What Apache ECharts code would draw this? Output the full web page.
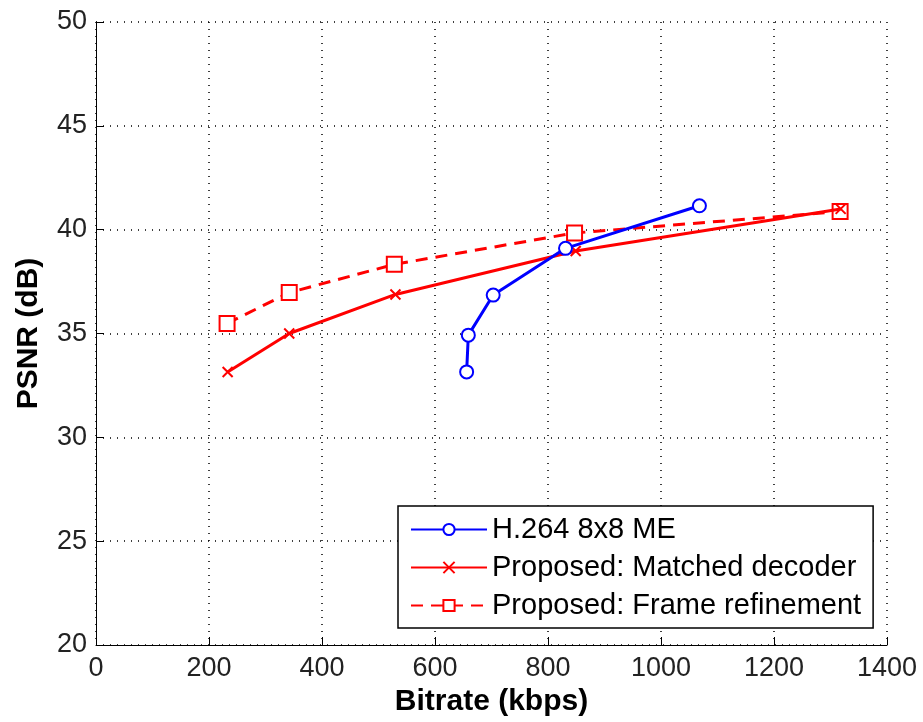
<!DOCTYPE html>
<html>
<head>
<meta charset="utf-8">
<script src="https://cdn.jsdelivr.net/npm/echarts@6/dist/echarts.min.js"></script>
<style>
html,body{margin:0;padding:0;background:#fff;}
#chart{width:923px;height:722px;}
</style>
</head>
<body>
<div id="chart"></div>
<script>
// Data
var seriesNames = ['H.264 8x8 ME', 'Proposed: Matched decoder', 'Proposed: Frame refinement'];
var h264Bitrate = [656, 659, 703, 831, 1068];
var h264Psnr    = [33.15, 34.92, 36.85, 39.1, 41.15];
var matchedBitrate = [233, 342, 530, 849, 1318];
var matchedPsnr    = [33.15, 35.0, 36.88, 38.97, 41.0];
var refineBitrate = [232, 342, 528, 847, 1317];
var refinePsnr    = [35.48, 36.97, 38.33, 39.84, 40.87];
var xTicks = [0, 200, 400, 600, 800, 1000, 1200, 1400];
var yTicks = [20, 25, 30, 35, 40, 45, 50];

function pairs(xs, ys){ return xs.map(function(x,i){ return [x, ys[i]]; }); }

var font = 'Liberation Sans, Arial, sans-serif';
var chart = echarts.init(document.getElementById('chart'), null, {renderer:'canvas'});
var crossPath = 'path://M0,0L10,10M10,0L0,10';

chart.setOption({
  animation: false,
  backgroundColor: '#fff',
  grid: {left: 96, top: 22, right: 36, bottom: 77, containLabel: false},
  xAxis: {
    type: 'value', min: xTicks[0], max: xTicks[xTicks.length-1], interval: 200,
    name: 'Bitrate (kbps)', nameLocation: 'middle', nameGap: 42,
    nameTextStyle: {fontFamily: font, fontSize: 30, fontWeight: 'bold', color: '#000'},
    axisLine: {show: true, onZero: false, lineStyle: {color: '#000', width: 1}},
    axisTick: {show: true, inside: true, length: 8, lineStyle: {color: '#000'}},
    axisLabel: {fontFamily: font, fontSize: 27, color: '#222', margin: 10,
      formatter: function(v){ return String(v); }},
    splitLine: {show: true, lineStyle: {color: '#000', type: [1, 6], width: 1.5}}
  },
  yAxis: {
    type: 'value', min: yTicks[0], max: yTicks[yTicks.length-1], interval: 5,
    name: 'PSNR (dB)', nameLocation: 'middle', nameGap: 52,
    nameTextStyle: {fontFamily: font, fontSize: 30, fontWeight: 'bold', color: '#000'},
    axisLine: {show: true, lineStyle: {color: '#000', width: 1}},
    axisTick: {show: true, inside: true, length: 8, lineStyle: {color: '#000'}},
    axisLabel: {fontFamily: font, fontSize: 27, color: '#222', margin: 9,
      formatter: function(v){ return String(v); }},
    splitLine: {show: true, lineStyle: {color: '#000', type: [1, 6], width: 1.5}}
  },
  legend: {
    orient: 'vertical',
    left: 398, top: 506,
    backgroundColor: '#fff',
    borderColor: '#000', borderWidth: 1.5, borderRadius: 0,
    padding: [9, 12, 8, 12],
    itemWidth: 76, itemHeight: 14, itemGap: 9,
    textStyle: {fontFamily: font, fontSize: 29, color: '#000'},
    data: seriesNames
  },
  series: [
    {
      name: seriesNames[0], type: 'line', data: pairs(h264Bitrate, h264Psnr),
      symbol: 'emptyCircle', symbolSize: 13,
      lineStyle: {color: '#0000ff', width: 3},
      itemStyle: {color: '#0000ff', borderColor: '#0000ff', borderWidth: 2.5},
      z: 5
    },
    {
      name: seriesNames[1], type: 'line', data: pairs(matchedBitrate, matchedPsnr),
      symbol: crossPath, symbolSize: 10,
      lineStyle: {color: '#ff0000', width: 3},
      itemStyle: {color: '#ff0000', borderColor: '#ff0000', borderWidth: 2},
      z: 4
    },
    {
      name: seriesNames[2], type: 'line', data: pairs(refineBitrate, refinePsnr),
      symbol: 'emptyRect', symbolSize: 15,
      lineStyle: {color: '#ff0000', width: 3, type: [12, 8]},
      itemStyle: {color: '#ff0000', borderColor: '#ff0000', borderWidth: 2.5},
      z: 3
    }
  ]
});
</script>
</body>
</html>
